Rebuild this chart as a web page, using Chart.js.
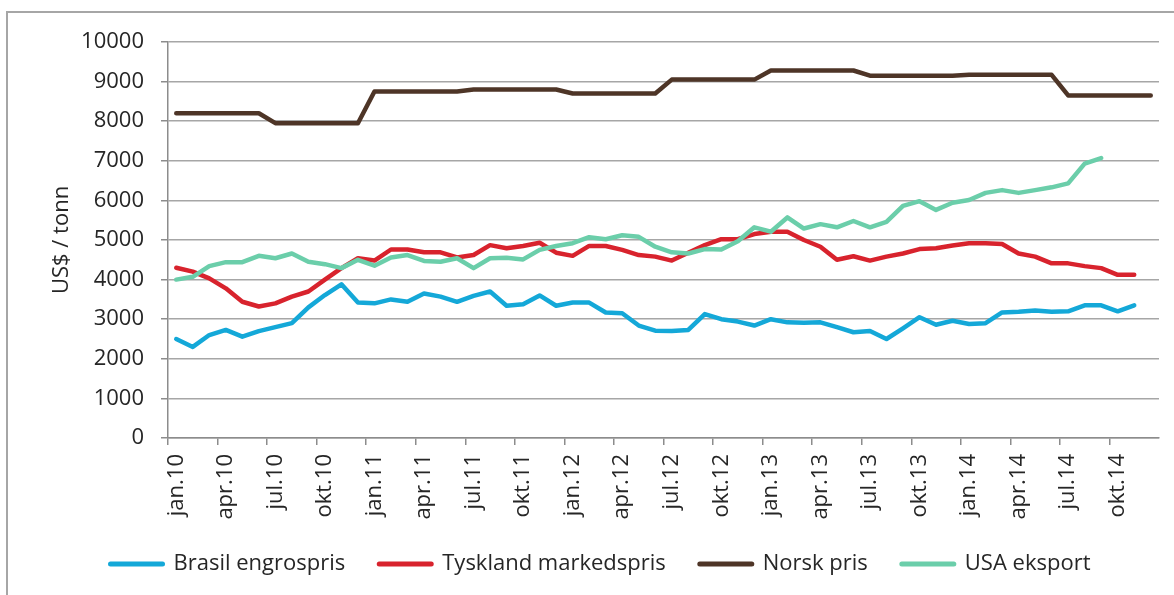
<!DOCTYPE html>
<html>
<head>
<meta charset="utf-8">
<script src="https://cdn.jsdelivr.net/npm/chart.js@4.4.1/dist/chart.umd.min.js"></script>
<style>
  html, body { margin: 0; padding: 0; background: #fff; }
  canvas { display: block; }
</style>
</head>
<body>
<canvas id="chart" width="1174" height="595"></canvas>
<script>
// monthly categories jan.10 - des.14
const months = ['jan', 'feb', 'mar', 'apr', 'mai', 'jun', 'jul', 'aug', 'sep', 'okt', 'nov', 'des'];
const years = ['10', '11', '12', '13', '14'];
const categories = [];
years.forEach(y => months.forEach(m => categories.push(m + '.' + y)));

const brasil = [
    2500, 2300, 2600, 2730, 2560, 2700, 2800, 2900, 3300, 3610,
    3880, 3420, 3400, 3500, 3440, 3650, 3570, 3440, 3590, 3700,
    3340, 3380, 3600, 3340, 3420, 3420, 3170, 3150, 2840, 2710,
    2700, 2730, 3130, 3000, 2940, 2840, 3000, 2920, 2910, 2920,
    2800, 2670, 2700, 2500, 2770, 3050, 2860, 2960, 2880, 2900,
    3170, 3190, 3220, 3190, 3200, 3350, 3350, 3200, 3350, null,
];
const tyskland = [
    4300, 4200, 4030, 3780, 3440, 3320, 3400, 3570, 3700, 4000,
    4290, 4540, 4480, 4760, 4760, 4690, 4690, 4560, 4620, 4870,
    4790, 4850, 4930, 4680, 4600, 4850, 4850, 4750, 4620, 4580,
    4480, 4680, 4870, 5020, 5020, 5150, 5210, 5210, 5000, 4830,
    4500, 4590, 4480, 4580, 4660, 4770, 4790, 4860, 4920, 4920,
    4900, 4660, 4580, 4410, 4410, 4340, 4290, 4120, 4120, null,
];
const norsk = [
    8200, 8200, 8200, 8200, 8200, 8200, 7950, 7950, 7950, 7950,
    7950, 7950, 8750, 8750, 8750, 8750, 8750, 8750, 8800, 8800,
    8800, 8800, 8800, 8800, 8700, 8700, 8700, 8700, 8700, 8700,
    9050, 9050, 9050, 9050, 9050, 9050, 9280, 9280, 9280, 9280,
    9280, 9280, 9150, 9150, 9150, 9150, 9150, 9150, 9170, 9170,
    9170, 9170, 9170, 9170, 8650, 8650, 8650, 8650, 8650, 8650,
];
const usa = [
    4000, 4070, 4340, 4440, 4440, 4600, 4540, 4660, 4450, 4390,
    4290, 4500, 4350, 4560, 4620, 4470, 4450, 4540, 4290, 4540,
    4550, 4510, 4750, 4850, 4920, 5070, 5020, 5120, 5080, 4830,
    4690, 4660, 4770, 4760, 4970, 5320, 5210, 5570, 5290, 5400,
    5320, 5480, 5320, 5460, 5860, 5980, 5760, 5940, 6010, 6190,
    6260, 6190, 6260, 6330, 6430, 6930, 7070, null, null, null,
];

const yTicks = { min: 0, max: 10000, step: 1000 };

const textColor = '#262626';
const axisGray = '#8c8c8c';
const font = { family: 'Open Sans', size: 22 };

// light frame round the whole picture
const framePlugin = {
    id: 'frame',
    beforeDraw(chart) {
        const ctx = chart.ctx;
        ctx.save();
        ctx.fillStyle = '#fff';
        ctx.fillRect(0, 0, chart.width, chart.height);
        ctx.strokeStyle = '#a6a6a6';
        ctx.lineWidth = 2;
        ctx.beginPath();
        ctx.moveTo(7, chart.height);
        ctx.lineTo(7, 12);
        ctx.lineTo(chart.width, 12);
        ctx.stroke();
        ctx.restore();
    },
};

new Chart(document.getElementById('chart'), {
    type: 'line',
    data: {
        labels: categories,
        datasets: [
            { label: 'Brasil engrospris', data: brasil, borderColor: '#14A8D8', backgroundColor: '#14A8D8', order: 4 },
            { label: 'Tyskland markedspris', data: tyskland, borderColor: '#D8232D', backgroundColor: '#D8232D', order: 3 },
            { label: 'Norsk pris', data: norsk, borderColor: '#4E3527', backgroundColor: '#4E3527', order: 2 },
            { label: 'USA eksport', data: usa, borderColor: '#6BCEAA', backgroundColor: '#6BCEAA', order: 1 },
        ],
    },
    options: {
        responsive: false,
        animation: false,
        layout: { padding: { top: 42, right: 0, bottom: 10, left: 27 } },
        elements: {
            point: { radius: 0 },
            line: { tension: 0, borderWidth: 4.5, borderCapStyle: 'round', borderJoinStyle: 'round' },
        },
        plugins: {
            tooltip: { enabled: false },
            legend: {
                position: 'bottom',
                labels: {
                    usePointStyle: true,
                    pointStyle: 'line',
                    pointStyleWidth: 52,
                    boxHeight: 22,
                    padding: 34,
                    color: textColor,
                    font: font,
                    sort: (a, b) => a.datasetIndex - b.datasetIndex,
                    generateLabels: chart => Chart.defaults.plugins.legend.labels.generateLabels(chart)
                        .map(item => Object.assign(item, { lineWidth: 5, lineCap: 'round' })),
                },
            },
        },
        scales: {
            x: {
                offset: true,
                grid: {
                    offset: true,
                    drawOnChartArea: false,
                    tickLength: 7,
                    lineWidth: 1.5,
                    tickColor: c => (c.index % 3 === 0 ? axisGray : 'rgba(0,0,0,0)'),
                },
                border: { color: axisGray, width: 1.5 },
                ticks: {
                    autoSkip: false,
                    maxRotation: 90,
                    minRotation: 90,
                    padding: 9,
                    color: textColor,
                    font: font,
                    callback: (v, i) => (i % 3 === 0 ? categories[i] : ''),
                },
                afterFit: s => {
                    s.height = 81;
                    s.paddingLeft = 0;
                    s.paddingRight = 15;
                },
            },
            y: {
                min: yTicks.min,
                max: yTicks.max,
                grid: { color: '#a6a6a6', lineWidth: 1.5, tickLength: 7, tickColor: axisGray },
                border: { color: axisGray, width: 1.5 },
                ticks: {
                    stepSize: yTicks.step,
                    padding: 17,
                    color: textColor,
                    font: font,
                    callback: v => String(v),
                },
                title: {
                    display: true,
                    text: 'US$ / tonn',
                    color: textColor,
                    font: font,
                    padding: { top: 22, bottom: 0 },
                },
                afterFit: s => { s.width = 141; },
            },
        },
    },
    plugins: [framePlugin],
});
</script>
</body>
</html>
